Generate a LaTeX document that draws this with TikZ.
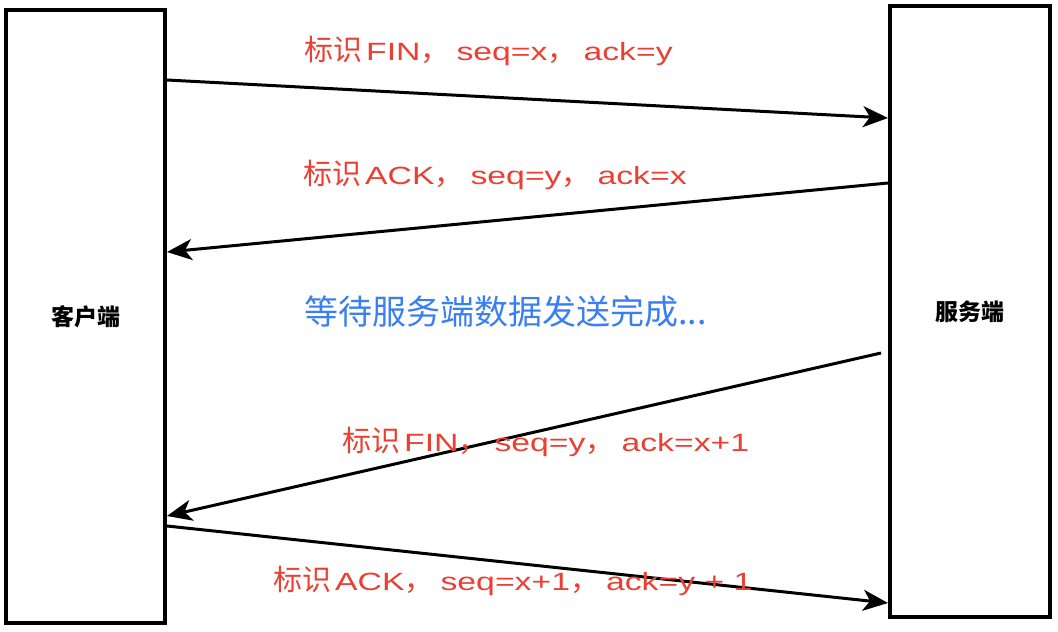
\documentclass[tikz,border=0pt]{standalone}
\usepackage{fontspec}
\setmainfont{Liberation Sans}[FakeStretch=1.35]
\newfontfamily\cjk{Noto Sans CJK SC}
\usetikzlibrary{arrows.meta}
\definecolor{msgred}{RGB}{234,64,52}
\definecolor{msgblue}{RGB}{58,127,241}
\newcommand\zh[1]{{\cjk\fontsize{29}{30}\selectfont #1}}
\newcommand\gapA{\hspace{4pt}}
\newcommand\gapB{\hspace{7pt}}
\tikzset{
  box/.style={draw=black, line width=4pt, fill=white, inner sep=0pt, font=\cjk\bfseries\fontsize{23}{26}\selectfont},
  msg/.style={anchor=west, inner sep=0pt, text=msgred, font=\fontsize{25}{30}\selectfont},
  note/.style={anchor=west, inner sep=0pt, text=msgblue, font=\cjk\fontsize{34}{36}\selectfont},
  arr/.style={line width=3pt, -{Stealth[length=25pt, width=21pt, inset=7pt]}},
}
\begin{document}
\begin{tikzpicture}[x=1pt, y=-1pt]
\useasboundingbox (0,0) rectangle (1058,632);
\node[box, minimum width=159pt, minimum height=613pt] (client) at (85.5,316.5) {客户端};
\node[box, minimum width=160pt, minimum height=611pt] (server) at (970,311.5) {服务端};
\coordinate (s3) at (881,353);

\draw[arr] (client.east |- 0,80) -- (server.west |- 0,118);
\draw[arr] (server.west |- 0,183) -- (client.east |- 0,252);
\draw[arr] (s3) -- (client.east |- 0,516);
\draw[arr] (client.east |- 0,526) -- (server.west |- 0,603);

\node[msg] (t1) at (304,51) {\zh{标识}\gapA FIN\zh{，}\gapB seq=x\zh{，}\gapB ack=y};
\node[msg] (t2) at (303,175) {\zh{标识}\gapA ACK\zh{，}\gapB seq=y\zh{，}\gapB ack=x};
\node[note] (t3) at (304,312) {等待服务端数据发送完成...};
\node[msg] (t4) at (342,442) {\zh{标识}\gapA FIN\zh{，}\gapB seq=y\zh{，}\gapB ack=x+1};
\node[msg] (t5) at (273,581) {\zh{标识}\gapA ACK\zh{，}\gapB seq=x+1\zh{，}\gapB ack=y + 1};
\end{tikzpicture}
\end{document}
